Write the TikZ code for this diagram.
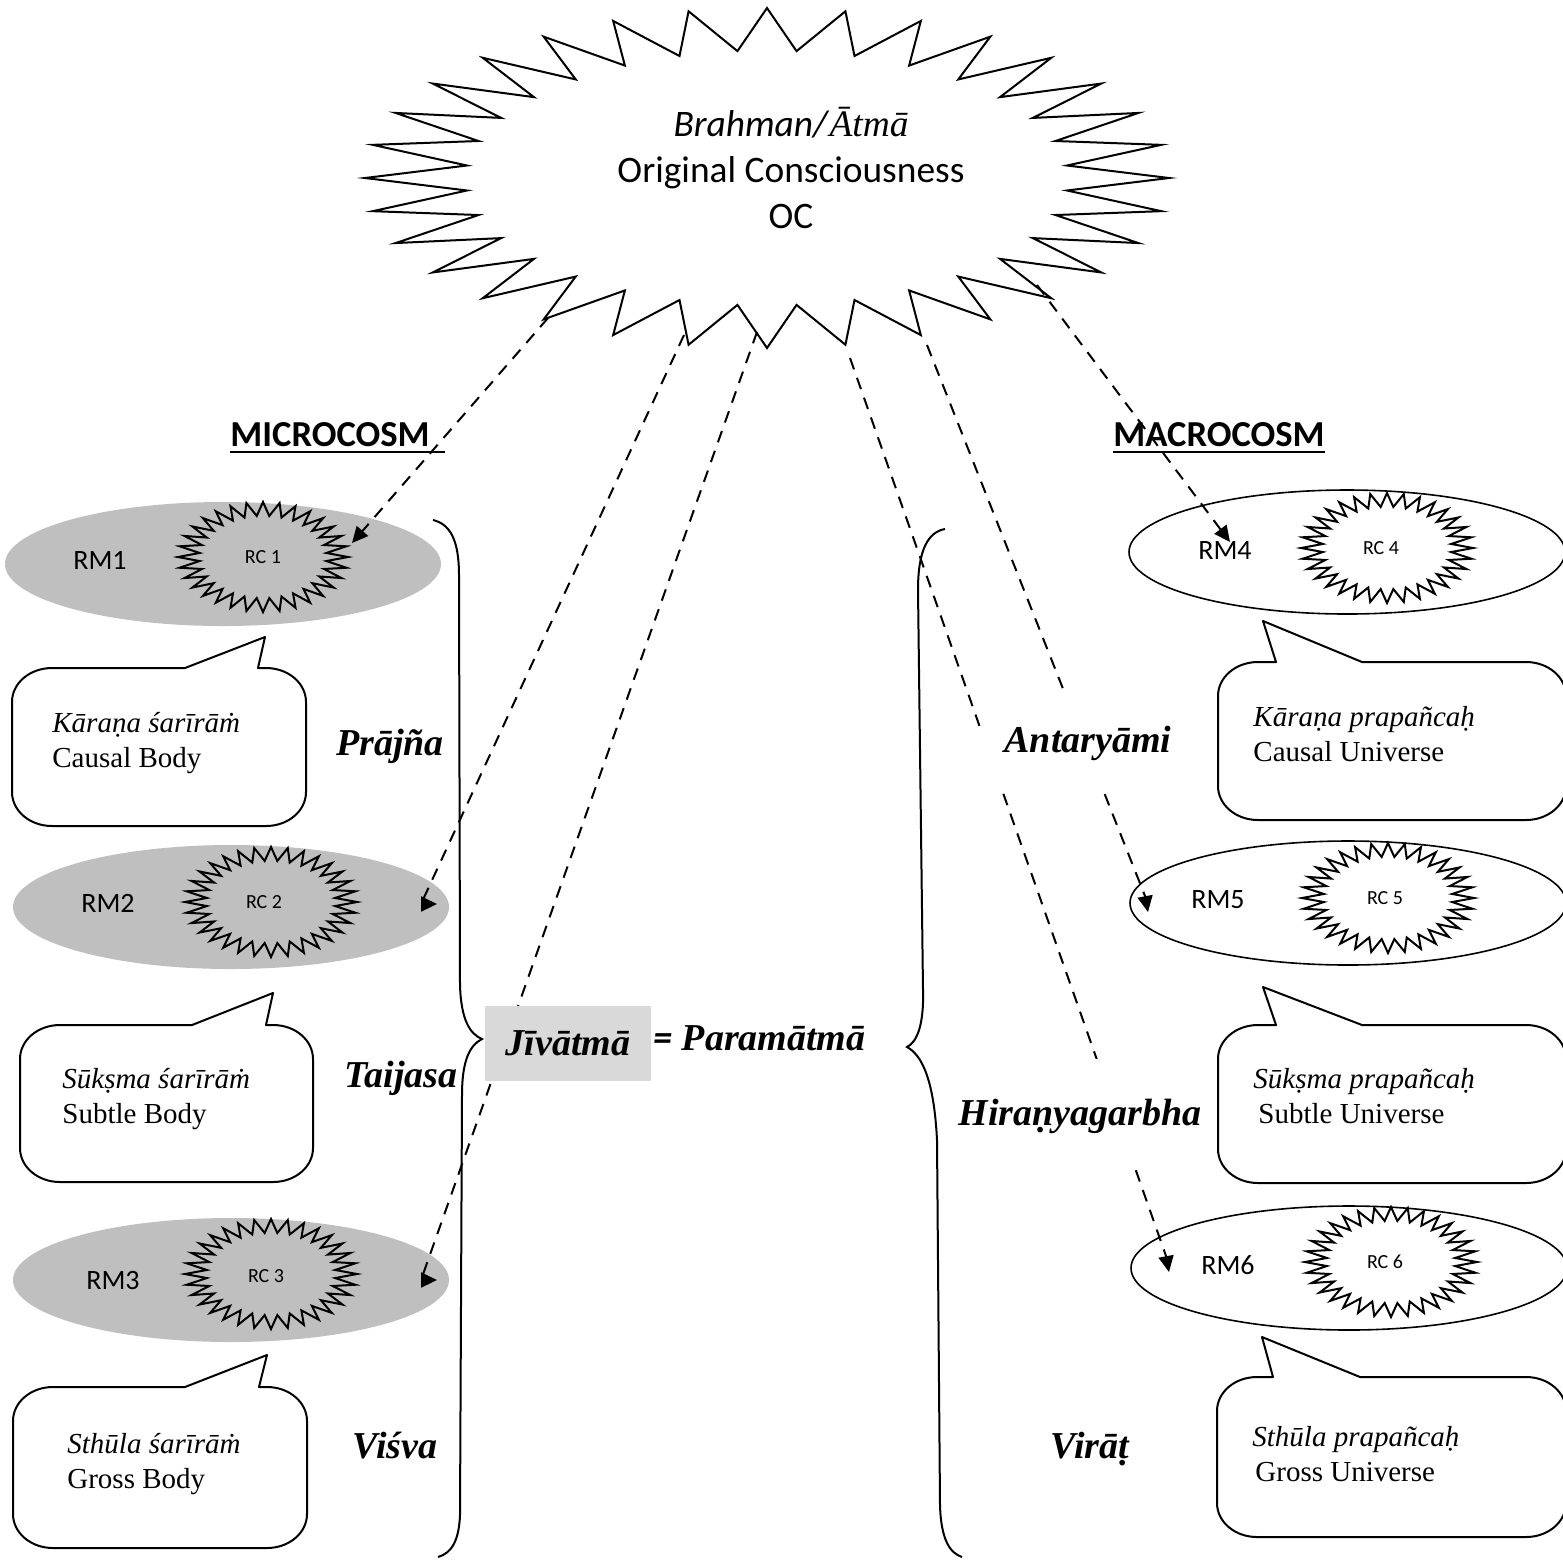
\documentclass[tikz,border=0pt]{standalone}
\usepackage{fontspec}
\setmainfont{Liberation Serif}
\newfontfamily\carl{Carlito}
\usetikzlibrary{arrows.meta,shapes.geometric}
\definecolor{ellgray}{HTML}{BFBFBF}
\definecolor{boxgray}{HTML}{D9D9D9}
% 32-point star: cx, cy, rx, ry, style
\newcommand\burst[5]{\draw[#5] plot[variable=\k, samples at={0,1,...,63}]
  ({#1+#3*(1-0.25*mod(\k,2))*cos(90+\k*5.625)},{#2-#4*(1-0.25*mod(\k,2))*sin(90+\k*5.625)}) -- cycle;}
% callout: x1, ytop, x2, ybot, base1, tipx, tipy, base2
\newcommand\callbox[8]{\draw[cbox] ({#1},{#2+34}) .. controls ({#1},{#2+15}) and ({#1+18},{#2}) .. ({#1+40},{#2})
  -- ({#5},{#2}) -- ({#6},{#7}) -- ({#8},{#2})
  -- ({#3-40},{#2}) .. controls ({#3-18},{#2}) and ({#3},{#2+15}) .. ({#3},{#2+34})
  -- ({#3},{#4-34}) .. controls ({#3},{#4-15}) and ({#3-18},{#4}) .. ({#3-40},{#4})
  -- ({#1+40},{#4}) .. controls ({#1+18},{#4}) and ({#1},{#4-15}) .. ({#1},{#4-34}) -- cycle;}
\begin{document}
\begin{tikzpicture}[x=0.5pt,y=-0.5pt,
  every node/.style={inner sep=0pt},
  rmL/.style={ellipse, fill=ellgray, minimum width=218pt, minimum height=62pt},
  rmR/.style={ellipse, draw, fill=white, line width=0.8pt, minimum width=218pt, minimum height=62pt},
  rmtxt/.style={font=\carl\fontsize{14}{17}\selectfont},
  rctxt/.style={font=\carl\fontsize{10}{12}\selectfont},
  bigline/.style={line width=1pt, line join=miter},
  smallline/.style={line width=1pt, line join=miter},
  conn/.style={line width=1pt, dash pattern=on 6pt off 4.5pt, -{Triangle[length=8pt,width=7.5pt]}},
  brace/.style={line width=1pt},
  cbox/.style={line width=1pt, line join=round},
  ctxt/.style={font=\fontsize{14.5}{17.5}\selectfont, align=left, anchor=west},
  lbl/.style={font=\bfseries\itshape\fontsize{19}{23}\selectfont, anchor=base},
  head/.style={font=\carl\bfseries\fontsize{18.3}{22}\selectfont, anchor=base west}]
\useasboundingbox (0,0) rectangle (1563,1560);

% ellipses
\node[rmL] (rm1e) at (223,564) {};
\node[rmL] (rm2e) at (231,907) {};
\node[rmL] (rm3e) at (231,1280) {};
\node[rmR] (rm4e) at (1347,552) {};
\node[rmR] (rm5e) at (1348,903) {};
\node[rmR] (rm6e) at (1349,1268) {};

% small stars
\burst{263}{557}{85}{55}{smallline}
\burst{271}{902}{86}{55}{smallline}
\burst{271}{1274}{86}{55}{smallline}
\burst{1387}{548}{86}{55}{smallline}
\burst{1388}{898}{86}{55}{smallline}
\burst{1391}{1262}{86}{55}{smallline}

\node[rmtxt] (rm1) at (100,560) {RM1};
\node[rmtxt] (rm2) at (108,903) {RM2};
\node[rmtxt] (rm3) at (113,1280) {RM3};
\node[rmtxt] (rm4) at (1225,550) {RM4};
\node[rmtxt] (rm5) at (1218,900) {RM5};
\node[rmtxt] (rm6) at (1228,1265) {RM6};
\node[rctxt] (rc1) at (263,557) {RC 1};
\node[rctxt] (rc2) at (264,902) {RC 2};
\node[rctxt] (rc3) at (266,1276) {RC 3};
\node[rctxt] (rc4) at (1381,548) {RC 4};
\node[rctxt] (rc5) at (1385,898) {RC 5};
\node[rctxt] (rc6) at (1385,1262) {RC 6};

% big star
\burst{767}{178}{402}{170}{bigline}
\node[font=\carl\fontsize{18.7}{23}\selectfont, align=center] (oc) at (791,168)
  {\textit{Brahman/}{\rmfamily\itshape Ātmā}\\Original Consciousness\\OC};

% braces
\draw[brace] (433,520) .. controls (450,524) and (459,540) .. (459,575) -- (460,985)
  .. controls (461,1020) and (470,1034) .. (482,1039)
  .. controls (470,1045) and (462,1060) .. (462,1095) -- (460,1515)
  .. controls (459,1540) and (452,1553) .. (438,1557);
\draw[brace] (945,529) .. controls (928,532) and (918,550) .. (918,590) -- (923,990)
  .. controls (924,1025) and (917,1042) .. (907,1047)
  .. controls (922,1055) and (934,1080) .. (937,1140) -- (940,1505)
  .. controls (941,1540) and (950,1553) .. (962,1557);

% connectors
\coordinate (s1) at (548,318); \coordinate (t1) at (352,543);
\coordinate (s2) at (684,335); \coordinate (k2) at (421,904); \coordinate (t2) at (437,904);
\coordinate (s3) at (757,332); \coordinate (k3) at (421,1280); \coordinate (t3) at (437,1280);
\coordinate (s4) at (850,358); \coordinate (k6) at (1166,1256); \coordinate (t6) at (1169,1272);
\coordinate (s5) at (927,345); \coordinate (k5) at (1145,896); \coordinate (t5) at (1148,912);
\coordinate (s6) at (1037,285); \coordinate (t4) at (1230,542);
\draw[conn] (s1) -- (t1);
\draw[conn] (s2) -- (k2) -- (t2);
\draw[conn] (s3) -- (k3) -- (t3);
\draw[conn] (s4) -- (k6) -- (t6);
\draw[conn] (s5) -- (k5) -- (t5);
\draw[conn] (s6) -- (t4);

% labels
\node[lbl] (prajna) at (390,755) {Prājña};
\node[lbl] (taijasa) at (401,1087) {Taijasa};
\node[lbl] (visva) at (395,1458) {Viśva};
\node[lbl, fill=white, text height=16pt, text depth=5pt, inner ysep=13pt, inner xsep=12pt] (antar) at (1088,752) {Antaryāmi};
\node[lbl, fill=white, text height=19pt, text depth=4.5pt, inner ysep=14pt, inner xsep=5pt] (hiran) at (1080,1125) {Hiraṇyagarbha};
\node[lbl] (virat) at (1090,1458) {Virāṭ};

\node[fill=boxgray, minimum width=83pt, minimum height=37.5pt, font=\bfseries\itshape\fontsize{19}{23}\selectfont] (jiva) at (568,1043) {Jīvātmā};
\node[lbl, anchor=base west] (param) at (653,1050) {{\carl\bfseries =}\ Paramātmā};

% callouts
\callbox{12}{668}{306}{826}{185}{265}{637}{258}
\callbox{20}{1025}{313}{1182}{192}{273}{993}{266}
\callbox{13}{1387}{307}{1548}{185}{267}{1355}{259}
\callbox{1218}{662}{1566}{820}{1276}{1263}{621}{1362}
\callbox{1218}{1025}{1566}{1183}{1276}{1263}{987}{1362}
\callbox{1217}{1377}{1566}{1537}{1273}{1262}{1337}{1360}

\node[ctxt] (c1) at (52,743) {\textit{Kāraṇa śarīrāṁ}\\Causal Body};
\node[ctxt] (c2) at (62,1099) {\textit{Sūkṣma śarīrāṁ}\\Subtle Body};
\node[ctxt] (c3) at (67,1464) {\textit{Sthūla śarīrāṁ}\\Gross Body};
\node[ctxt] (c4) at (1253,734) {\textit{Kāraṇa prapañcaḥ}\\Causal Universe};
\node[ctxt] (c5) at (1253,1096) {\textit{Sūkṣma prapañcaḥ}\\\hspace{2.5pt}Subtle Universe};
\node[ctxt] (c6) at (1252,1454) {\textit{Sthūla prapañcaḥ}\\\hspace{1.5pt}Gross Universe};

% headings
\node[head] (micro) at (230,446) {MICROCOSM};
\draw[line width=1pt] ([yshift=-3pt]micro.base west) -- ([yshift=-3pt,xshift=7.5pt]micro.base east);
\node[head] (macro) at (1113,446) {MACROCOSM};
\draw[line width=1pt] ([yshift=-3pt]macro.base west) -- ([yshift=-3pt]macro.base east);
\end{tikzpicture}
\end{document}
